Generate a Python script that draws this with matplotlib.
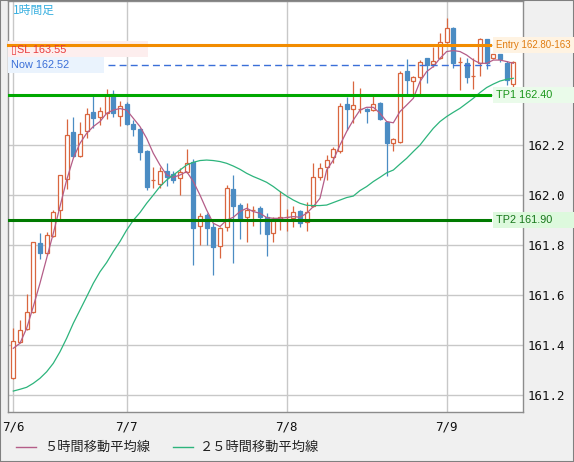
import numpy as np
import matplotlib.pyplot as plt
from matplotlib.patches import Rectangle
from matplotlib.lines import Line2D
from matplotlib.transforms import blended_transform_factory

# %% data ---------------------------------------------------------------------
# hourly candles, 7/6 07:00 .. 7/9 10:00
opens = [161.268, 161.415, 161.464, 161.535, 161.809, 161.771, 161.836, 161.940,
         162.067, 162.253, 162.159, 162.259, 162.333, 162.312, 162.328, 162.405,
         162.316, 162.367, 162.287, 162.265, 162.177, 162.061, 162.047, 162.097,
         162.084, 162.068, 162.095, 162.135, 161.879, 161.921, 161.875, 161.799,
         161.872, 162.025, 161.961, 161.915, 161.941, 161.951, 161.915, 161.848,
         161.901, 161.915, 161.911, 161.937, 161.892, 161.959, 162.075, 162.112,
         162.155, 162.179, 162.365, 162.344, 162.345, 162.345, 162.341, 162.371,
         162.293, 162.211, 162.212, 162.497, 162.459, 162.475, 162.548, 162.524,
         162.548, 162.612, 162.670, 162.532, 162.528, 162.477, 162.528, 162.624,
         162.548, 162.564, 162.528, 162.445]
highs = [161.470, 161.501, 161.605, 161.815, 161.849, 161.853, 161.941, 162.082,
         162.304, 162.315, 162.293, 162.351, 162.396, 162.355, 162.425, 162.421,
         162.379, 162.372, 162.300, 162.270, 162.180, 162.112, 162.112, 162.129,
         162.097, 162.108, 162.185, 162.144, 161.931, 161.928, 161.891, 161.875,
         162.041, 162.081, 161.968, 161.968, 161.957, 161.957, 161.928, 161.913,
         162.019, 161.944, 161.957, 161.941, 161.972, 162.131, 162.131, 162.161,
         162.195, 162.368, 162.395, 162.459, 162.428, 162.350, 162.405, 162.375,
         162.295, 162.228, 162.498, 162.545, 162.477, 162.541, 162.550, 162.595,
         162.648, 162.708, 162.674, 162.554, 162.548, 162.548, 162.628, 162.625,
         162.565, 162.566, 162.537, 162.539]
lows = [161.265, 161.410, 161.460, 161.530, 161.745, 161.761, 161.832, 161.905,
        162.027, 162.155, 162.155, 162.228, 162.268, 162.281, 162.307, 162.315,
        162.279, 162.280, 162.239, 162.141, 162.021, 162.031, 162.031, 162.037,
        162.051, 162.001, 162.090, 161.721, 161.801, 161.801, 161.681, 161.748,
        161.859, 161.728, 161.825, 161.815, 161.879, 161.845, 161.759, 161.815,
        161.861, 161.859, 161.875, 161.875, 161.859, 161.955, 162.062, 162.061,
        162.128, 162.168, 162.261, 162.288, 162.328, 162.291, 162.337, 162.300,
        162.079, 162.179, 162.210, 162.401, 162.401, 162.401, 162.448, 162.512,
        162.545, 162.610, 162.508, 162.421, 162.448, 162.424, 162.477, 162.504,
        162.545, 162.535, 162.441, 162.428]
closes = [161.417, 161.460, 161.532, 161.812, 161.768, 161.840, 161.932, 162.080,
          162.240, 162.159, 162.244, 162.325, 162.308, 162.336, 162.403, 162.331,
          162.357, 162.287, 162.264, 162.175, 162.035, 162.061, 162.097, 162.075,
          162.063, 162.095, 162.128, 161.871, 161.919, 161.871, 161.795, 161.868,
          162.028, 161.959, 161.901, 161.941, 161.941, 161.915, 161.844, 161.901,
          161.915, 161.915, 161.932, 161.891, 161.935, 162.075, 162.111, 162.141,
          162.184, 162.357, 162.345, 162.360, 162.345, 162.339, 162.364, 162.307,
          162.211, 162.224, 162.488, 162.461, 162.475, 162.535, 162.521, 162.539,
          162.612, 162.670, 162.531, 162.532, 162.475, 162.477, 162.624, 162.528,
          162.564, 162.545, 162.461, 162.535]
ma5 = [161.388, 161.408, 161.468, 161.555, 161.648, 161.748, 161.848, 161.955,
       162.061, 162.148, 162.208, 162.248, 162.275, 162.295, 162.328, 162.341,
       162.347, 162.341, 162.308, 162.275, 162.228, 162.168, 162.121, 162.081,
       162.072, 162.081, 162.095, 162.055, 162.001, 161.941, 161.888, 161.875,
       161.901, 161.912, 161.935, 161.948, 161.935, 161.928, 161.911, 161.908,
       161.908, 161.911, 161.915, 161.912, 161.928, 161.955, 161.988, 162.101,
       162.141, 162.201, 162.255, 162.301, 162.341, 162.352, 162.352, 162.328,
       162.295, 162.290, 162.335, 162.361, 162.388, 162.455, 162.495, 162.515,
       162.548, 162.575, 162.579, 162.575, 162.561, 162.541, 162.528, 162.528,
       162.541, 162.541, 162.535, 162.528]
ma25 = [161.217, 161.224, 161.232, 161.248, 161.268, 161.294, 161.328, 161.374,
        161.428, 161.488, 161.541, 161.594, 161.648, 161.694, 161.731, 161.775,
        161.815, 161.861, 161.900, 161.931, 161.968, 162.001, 162.035, 162.061,
        162.081, 162.101, 162.121, 162.132, 162.139, 162.141, 162.139, 162.135,
        162.128, 162.117, 162.104, 162.088, 162.075, 162.064, 162.052, 162.035,
        162.015, 161.997, 161.981, 161.968, 161.960, 161.959, 161.959, 161.961,
        161.971, 161.981, 161.991, 161.997, 162.019, 162.035, 162.055, 162.072,
        162.090, 162.101, 162.125, 162.148, 162.175, 162.201, 162.235, 162.268,
        162.295, 162.315, 162.332, 162.348, 162.368, 162.388, 162.411, 162.431,
        162.445, 162.457, 162.464, 162.468]

day_pos = [0, 17, 41, 65]
day_labels = ['7/6', '7/7', '7/8', '7/9']
y_ticks = [161.2, 161.4, 161.6, 161.8, 162.0, 162.2, 162.4, 162.6]

entry_level, now_level, tp1_level, tp2_level, sl_level = 162.60, 162.52, 162.40, 161.90, 162.585

# %% colours ------------------------------------------------------------------
c_up, c_down = '#d9663f', '#4b8cc3'
c_ma5, c_ma25 = '#b45d88', '#2db47c'
jp = ['Noto Sans CJK JP', 'DejaVu Sans']
lab = ['Liberation Sans', 'DejaVu Sans']
mono = 'DejaVu Sans Mono'

# %% figure -------------------------------------------------------------------
W, H = 574, 462
fig = plt.figure(figsize=(W/100, H/100), dpi=100, facecolor='#f0f0f0')
ax = fig.add_axes([8/W, 50/H, 515/W, 411/H], facecolor='white')

x = np.arange(len(closes))
o, h, l, c = map(np.array, (opens, highs, lows, closes))
up = c >= o
col = np.where(up, c_up, c_down)

ax.vlines(x, l, h, colors=col, lw=0.9, zorder=2)
ax.bar(x, np.abs(c - o), width=0.62, bottom=np.minimum(o, c),
       facecolor=np.where(up, 'white', c_down), edgecolor=col, lw=0.9, zorder=3)

ax.plot(x, ma5, color=c_ma5, lw=0.9, zorder=4)
ax.plot(x, ma25, color=c_ma25, lw=0.9, zorder=4)

# level lines
xr = 0.936
ax.axhline(tp1_level, xmax=xr, color='#00a800', lw=2.2, zorder=6)
ax.axhline(tp2_level, xmax=xr, color='#007a00', lw=2.2, zorder=6)
ax.axhline(now_level, xmin=0.194, xmax=xr, color='#3a6fd8', lw=1,
           ls=(0, (5, 3)), zorder=6)

ax.set_xlim(-0.795, 76.45)
ax.set_ylim(161.1332, 162.7772)
ax.set_xticks(day_pos, day_labels, fontfamily=mono, fontsize=9)
ax.set_yticks(y_ticks, [f'{v:.1f}' if v < 162.3 else '' for v in y_ticks],
              fontfamily=mono, fontsize=9)
ax.yaxis.tick_right()
ax.tick_params(length=0, colors='#111111')
ax.tick_params(axis='y', pad=3)
ax.tick_params(axis='x', pad=6)
ax.grid(color='#c8c8c8', lw=1)
ax.set_axisbelow(True)
for s in ax.spines.values():
    s.set_color('#8c8c8c')
    s.set_linewidth(1)

# label boxes (x in pixels of the figure, y in price)
blend = blended_transform_factory(fig.transFigure, ax.transData)
box_h = 0.064


def tag(x0, x1, y, text, fc, tc, size=7.8):
    fig.add_artist(Rectangle((x0/W, y - box_h/2), (x1 - x0)/W, box_h,
                             transform=blend, facecolor=fc, edgecolor='none',
                             zorder=5))
    fig.text((x0 + 3)/W, y, text, transform=blend, color=tc, fontsize=size,
             family=lab, va='center', ha='left', zorder=7)


tag(8, 148, sl_level, '\u25afSL 163.55', '#fdeeee', '#e83a3a')
tag(8, 104, now_level, 'Now 162.52', '#eaf3fd', '#3a6fd8')
tag(493, 574, entry_level, 'Entry 162.80-163', '#fff3e2', '#e07c10', size=7.0)
tag(493, 574, tp1_level, 'TP1 162.40', '#eafbea', '#1a961a')
tag(493, 574, tp2_level, 'TP2 161.90', '#ddf9dd', '#16761a')

# entry line drawn over the SL box
fig.add_artist(Line2D([8/W, 490/W], [entry_level]*2, transform=blend,
                      color='#f28c00', lw=2.2, zorder=6))

fig.text(13/W, 1 - 10/H, '1時間足', color='#3ab0e0', fontsize=8.5,
         family=jp, va='center')

# legend
ly = 1 - 447/H
fig.add_artist(Line2D([16/W, 36/W], [ly, ly], color=c_ma5, lw=1))
fig.text(44/W, ly, '５時間移動平均線', fontsize=9.5, family=jp, va='center',
         color='#222222')
fig.add_artist(Line2D([173/W, 193/W], [ly, ly], color=c_ma25, lw=1))
fig.text(200/W, ly, '２５時間移動平均線', fontsize=9.5, family=jp, va='center',
         color='#222222')

fig.add_artist(Rectangle((0, 0), 1, 1, transform=fig.transFigure, fill=False,
                         edgecolor='#808080', lw=1.5))

fig.savefig('out.png', dpi=100, facecolor=fig.get_facecolor())
